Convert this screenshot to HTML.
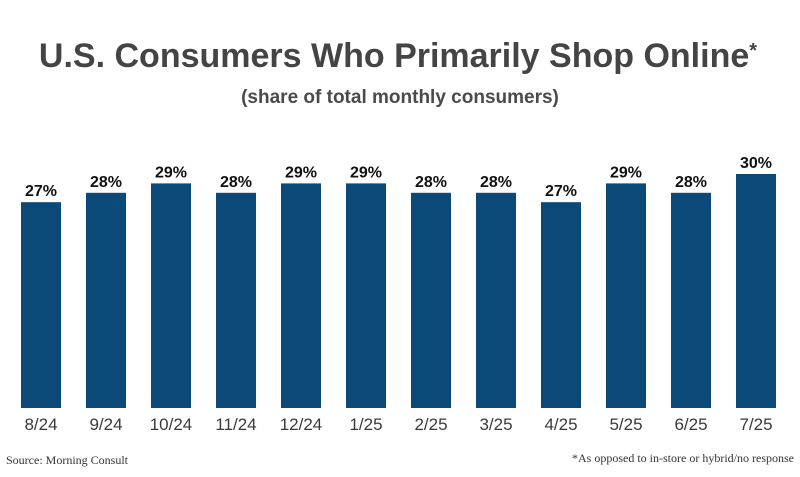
<!DOCTYPE html>
<html><head><meta charset="utf-8"><style>
body{margin:0;background:#fff;width:800px;height:472px;overflow:hidden;}
svg text{font-family:"Liberation Sans",sans-serif;}
</style></head><body>
<svg id="chart" width="800" height="472" xmlns="http://www.w3.org/2000/svg">
<text x="398" y="67" text-anchor="middle" font-size="34" font-weight="bold" fill="#444">U.S. Consumers Who Primarily Shop Online<tspan font-size="20" dy="-10">*</tspan></text>
<text x="400" y="103" text-anchor="middle" font-size="19" font-weight="bold" fill="#4a4a4a">(share of total monthly consumers)</text>
<g id="bars"></g>
<text x="6" y="464" font-size="12" fill="#333" style="font-family:'Liberation Serif',serif">Source: Morning Consult</text>
<text x="794" y="462" text-anchor="end" font-size="12" fill="#333" style="font-family:'Liberation Serif',serif">*As opposed to in-store or hybrid/no response</text>
</svg>
<script>
const categories=["8/24","9/24","10/24","11/24","12/24","1/25","2/25","3/25","4/25","5/25","6/25","7/25"];
const values=[27,28,29,28,29,29,28,28,27,29,28,30];
const labels=["27%","28%","29%","28%","29%","29%","28%","28%","27%","29%","28%","30%"];
const ns="http://www.w3.org/2000/svg";
const g=document.getElementById('bars');
const yMin=5.1, yMax=30, y0=408, y1=174;
function y(v){return y0-(v-yMin)/(yMax-yMin)*(y0-y1);}
function x(i){return 41+i*65;}
categories.forEach((c,i)=>{
  const r=document.createElementNS(ns,'rect');
  
  
  r.setAttribute('x',x(i)-20);r.setAttribute('width',40);
  r.setAttribute('y',y(values[i]));r.setAttribute('height',y0-y(values[i]));
  r.setAttribute('fill','#0b4a78');g.appendChild(r);
  const t=document.createElementNS(ns,'text');
  
  
  t.setAttribute('x',x(i));t.setAttribute('y',y(values[i])-6);
  t.setAttribute('text-anchor','middle');t.setAttribute('font-size','16');
  t.setAttribute('font-weight','bold');t.setAttribute('fill','#111');
  t.textContent=labels[i];g.appendChild(t);
  const l=document.createElementNS(ns,'text');
  
  
  l.setAttribute('x',x(i));l.setAttribute('y',430);
  l.setAttribute('text-anchor','middle');l.setAttribute('font-size','17');
  l.setAttribute('fill','#3a3a3a');
  l.textContent=c;g.appendChild(l);
});
</script>
</body></html>
